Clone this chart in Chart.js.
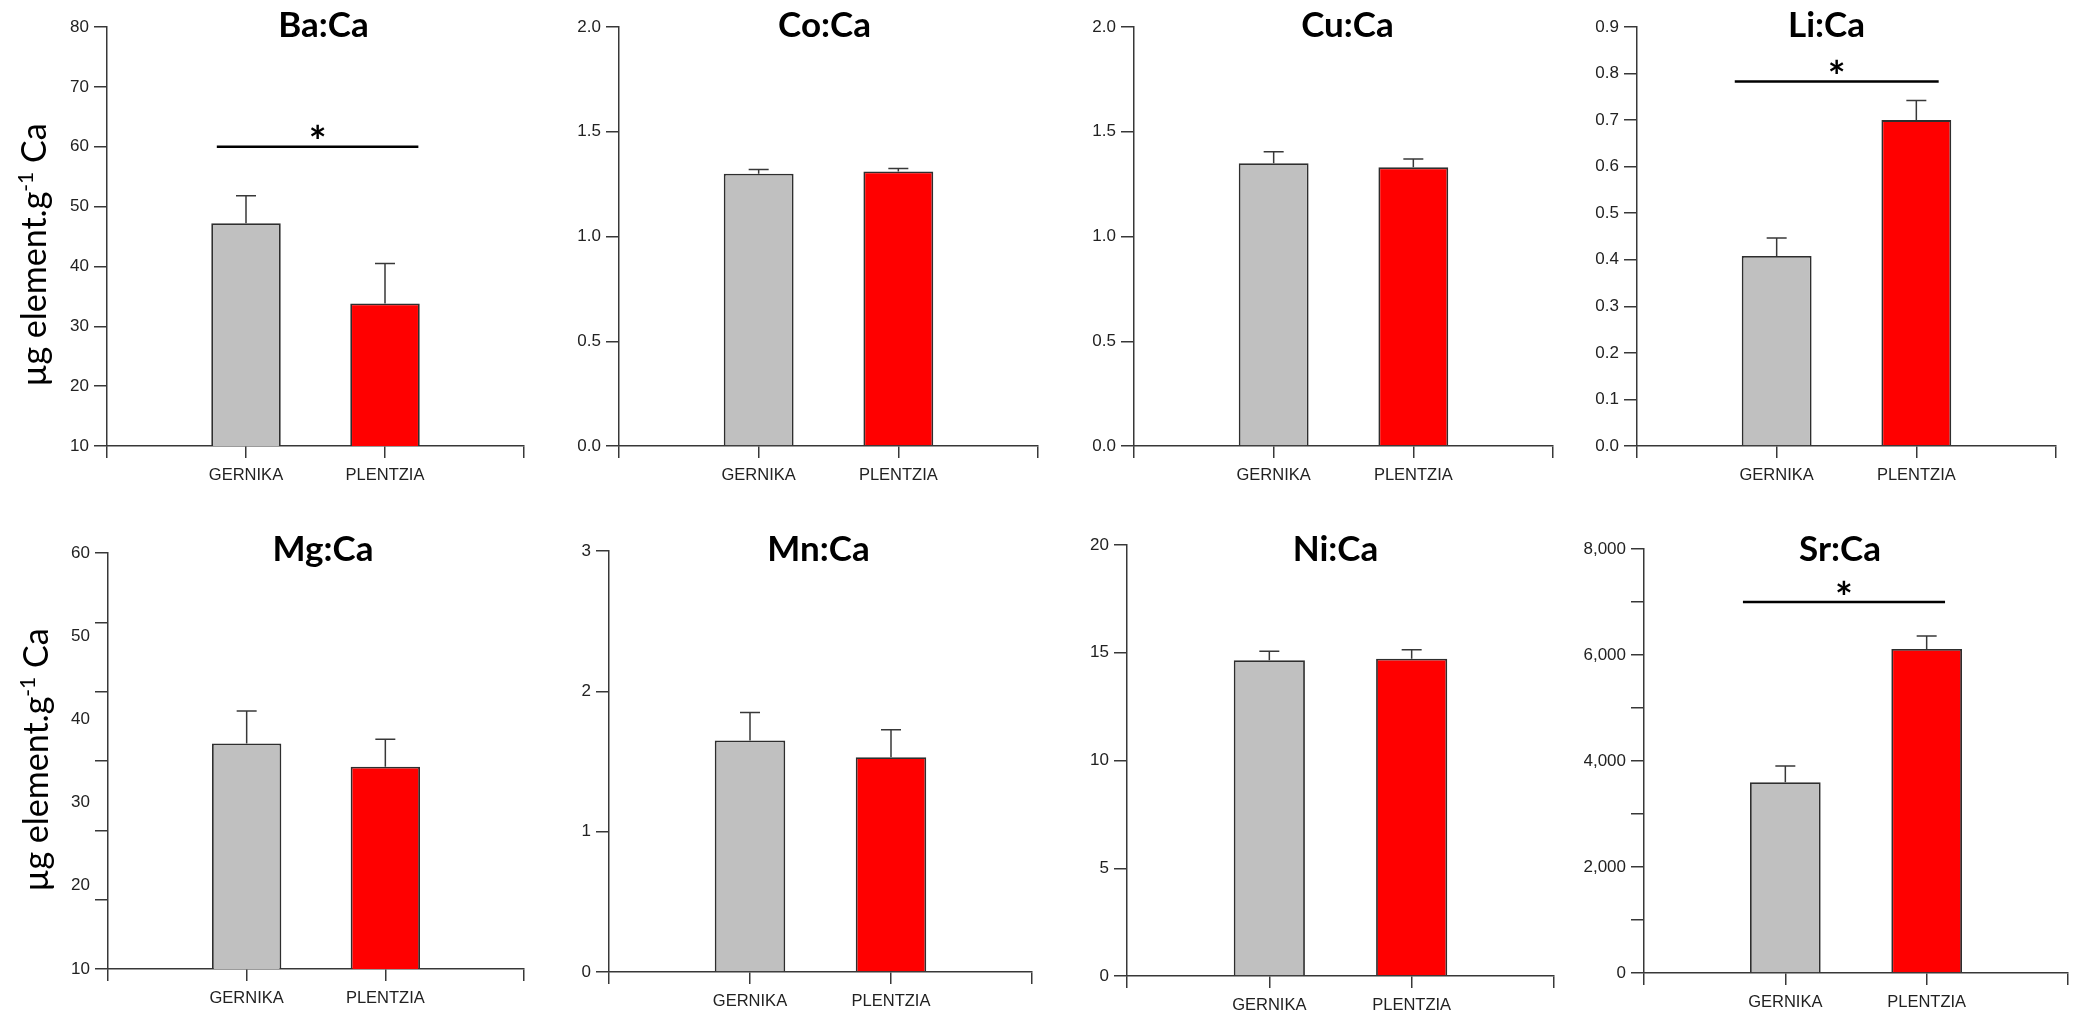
<!DOCTYPE html>
<html>
<head>
<meta charset="utf-8">
<script src="https://cdn.jsdelivr.net/npm/chart.js@4.4.0/dist/chart.umd.min.js"></script>
<style>
  html, body { margin: 0; padding: 0; background: #fff; }
  #wrap { position: relative; width: 2076px; height: 1016px; overflow: hidden; }
  .panel { position: absolute; }
</style>
</head>
<body>
<div id="wrap"></div>
<script>
// ---- data ----
var sites = ['GERNIKA', 'PLENTZIA'];
var ratios = ['Ba:Ca', 'Co:Ca', 'Cu:Ca', 'Li:Ca', 'Mg:Ca', 'Mn:Ca', 'Ni:Ca', 'Sr:Ca'];
var gernikaMean  = [47.2, 1.30, 1.35, 0.408, 37.1, 1.65, 14.65, 3600];
var gernikaSE    = [4.6, 0.02, 0.055, 0.039, 3.9, 0.20, 0.42, 305];
var plentziaMean = [33.8, 1.31, 1.33, 0.70, 34.3, 1.53, 14.72, 6115];
var plentziaSE   = [6.7, 0.015, 0.04, 0.042, 3.3, 0.197, 0.42, 245];

// y axes: range, tick marks, labelled ticks
var yMin = [10, 0, 0, 0, 10, 0, 0, 0];
var yMax = [80, 2, 2, 0.9, 60, 3, 20, 8000];
var yTickStep = [10, 0.5, 0.5, 0.1, 50 / 6, 1, 5, 1000];
var yLabelStep = [10, 0.5, 0.5, 0.1, 10, 1, 5, 2000];
var yDecimals = [0, 1, 1, 1, 0, 0, 0, 0];

// significance bar level (null = none)
var sigLevel = [60, null, null, 0.783, null, null, null, 7000];

var yTitle = 'µg element.g';
var yTitleSup = '-1';
var yTitleEnd = ' Ca';

// ---- layout (page pixels) ----
var colEdges = [0, 532, 1046, 1562, 2076];
var rowEdges = [0, 500, 1016];
var panels = [
  { plot: [107, 27, 524, 446],   titleDx: 8,   titleY: 37, sig: [0.79, 2.24], ytitle: [46, 255] },
  { plot: [619, 27, 1038, 446],  titleDx: -4,  titleY: 37 },
  { plot: [1134, 27, 1553, 446], titleDx: 4,   titleY: 37 },
  { plot: [1637, 27, 2056, 446], titleDx: -20, titleY: 37, sig: [0.70, 2.16] },
  { plot: [108, 553, 524, 969],  titleDx: 7,   titleY: 61, ytitle: [48, 760] },
  { plot: [609, 551, 1032, 972], titleDx: -2,  titleY: 61 },
  { plot: [1127, 545, 1558, 976], titleDx: -5, titleY: 61 },
  { plot: [1644, 549, 2069, 973], titleDx: -16, titleY: 61, sig: [0.70, 2.13] }
];

var AXIS = '#383838';
var TEXT = '#222';
var Y_W = 60, X_H = 36;

Chart.defaults.font.family = "'Liberation Sans', Arial, sans-serif";

function onStep(v, min, step) {
  var k = (v - min) / step;
  return Math.abs(k - Math.round(k)) < 1e-6;
}

function tickValues(i) {
  var vals = [];
  var n = Math.round((yMax[i] - yMin[i]) / yTickStep[i]);
  for (var k = 0; k <= n; k++) vals.push(yMin[i] + k * yTickStep[i]);
  var m = Math.round((yMax[i] - yMin[i]) / yLabelStep[i]);
  for (var j = 0; j <= m; j++) {
    var v = yMin[i] + j * yLabelStep[i];
    var dup = vals.some(function (u) { return Math.abs(u - v) < 1e-9; });
    if (!dup) vals.push(v);
  }
  return vals.sort(function (a, b) { return a - b; });
}

function fmt(i, v) {
  if (yMax[i] >= 1000) return Math.round(v).toLocaleString('en-US');
  return v.toFixed(yDecimals[i]);
}

function makeOverlay(i) {
  var p = panels[i];
  var means = [null, gernikaMean[i], plentziaMean[i], null];
  var errs = [null, gernikaSE[i], plentziaSE[i], null];
  return {
    id: 'overlay' + i,
    afterDatasetsDraw: function (chart) {
      var ctx = chart.ctx, area = chart.chartArea;
      var xs = chart.scales.x, ys = chart.scales.y;
      var meta = chart.getDatasetMeta(0);
      ctx.save();

      // error bars (mean + SE)
      ctx.strokeStyle = AXIS;
      ctx.lineWidth = 1.5;
      for (var k = 1; k <= 2; k++) {
        var bar = meta.data[k];
        var top = ys.getPixelForValue(means[k] + errs[k]);
        ctx.beginPath();
        ctx.moveTo(bar.x, bar.y);
        ctx.lineTo(bar.x, top);
        ctx.moveTo(bar.x - 10, top);
        ctx.lineTo(bar.x + 10, top);
        ctx.stroke();
      }

      // title
      ctx.fillStyle = '#000';
      ctx.font = "bold 35px Lato, 'Open Sans', sans-serif";
      ctx.textAlign = 'center';
      ctx.textBaseline = 'alphabetic';
      ctx.fillText(ratios[i], (area.left + area.right) / 2 + p.titleDx, p.titleY);

      // significance bar + asterisk
      if (sigLevel[i] !== null && p.sig) {
        var y = ys.getPixelForValue(sigLevel[i]);
        var x1 = xs.getPixelForValue(p.sig[0]);
        var x2 = xs.getPixelForValue(p.sig[1]);
        ctx.strokeStyle = '#000';
        ctx.lineWidth = 2.5;
        ctx.beginPath();
        ctx.moveTo(x1, y);
        ctx.lineTo(x2, y);
        ctx.stroke();
        ctx.font = "bold 42px Lato, sans-serif";
        var mt = ctx.measureText('*');
        var h = mt.actualBoundingBoxAscent + mt.actualBoundingBoxDescent;
        ctx.textAlign = 'center';
        ctx.fillText('*', (x1 + x2) / 2, y - 15 - h / 2 + mt.actualBoundingBoxAscent);
      }

      // shared y-axis title on the first column
      if (p.ytitle) {
        ctx.fillStyle = '#000';
        ctx.translate(p.ytitle[0], p.ytitle[1]);
        ctx.rotate(-Math.PI / 2);
        ctx.textAlign = 'left';
        var big = "34px Lato, sans-serif", small = "21px Lato, sans-serif";
        ctx.font = big;
        var w1 = ctx.measureText(yTitle).width;
        var w3 = ctx.measureText(yTitleEnd).width;
        ctx.font = small;
        var w2 = ctx.measureText(yTitleSup).width;
        var x0 = -(w1 + w2 + w3) / 2;
        ctx.font = big;
        ctx.fillText(yTitle, x0, 0);
        ctx.font = small;
        ctx.fillText(yTitleSup, x0 + w1, -13);
        ctx.font = big;
        ctx.fillText(yTitleEnd, x0 + w1 + w2, 0);
      }
      ctx.restore();
    }
  };
}

function makeChart(i) {
  var p = panels[i];
  var col = i % 4, row = Math.floor(i / 4);
  var cx0 = colEdges[col], cx1 = colEdges[col + 1];
  var cy0 = rowEdges[row], cy1 = rowEdges[row + 1];
  var w = cx1 - cx0, h = cy1 - cy0;

  var box = document.createElement('div');
  box.className = 'panel';
  box.style.left = cx0 + 'px';
  box.style.top = cy0 + 'px';
  box.style.width = w + 'px';
  box.style.height = h + 'px';
  var canvas = document.createElement('canvas');
  canvas.width = w;
  canvas.height = h;
  canvas.style.width = w + 'px';
  canvas.style.height = h + 'px';
  box.appendChild(canvas);
  document.getElementById('wrap').appendChild(box);

  if (p.ytitle) p.ytitle = [p.ytitle[0] - cx0, p.ytitle[1] - cy0];

  var pad = {
    left: p.plot[0] - cx0 - Y_W,
    top: p.plot[1] - cy0,
    right: cx1 - p.plot[2],
    bottom: cy1 - p.plot[3] - X_H
  };

  return new Chart(canvas.getContext('2d'), {
    type: 'bar',
    data: {
      labels: [''].concat(sites).concat(['']),
      datasets: [{
        data: [null, gernikaMean[i], plentziaMean[i], null],
        backgroundColor: ['#ffffff', '#c0c0c0', '#ff0000', '#ffffff'],
        borderColor: '#2e2e2e',
        borderWidth: 1.8,
        borderSkipped: 'start',
        categoryPercentage: 1,
        barPercentage: 0.5
      }]
    },
    options: {
      responsive: false,
      animation: false,
      events: [],
      layout: { padding: pad },
      plugins: { legend: { display: false }, tooltip: { enabled: false }, title: { display: false } },
      scales: {
        x: {
          type: 'category',
          offset: false,
          grid: { display: true, offset: false, drawOnChartArea: false, drawTicks: true, tickLength: 12, color: AXIS, lineWidth: 1.5 },
          border: { display: true, color: AXIS, width: 1.5 },
          ticks: { color: TEXT, font: { size: 16.5 }, padding: 8, maxRotation: 0, autoSkip: false },
          afterFit: function (s) { s.height = X_H; }
        },
        y: {
          type: 'linear',
          min: yMin[i],
          max: yMax[i],
          grid: {
            display: true, drawOnChartArea: false, drawTicks: true, tickLength: 13, lineWidth: 1.5,
            color: AXIS,
            tickColor: function (c) {
              return c.tick && onStep(c.tick.value, yMin[i], yTickStep[i]) ? AXIS : 'rgba(0,0,0,0)';
            }
          },
          border: { display: true, color: AXIS, width: 1.5 },
          ticks: {
            color: TEXT,
            font: { size: 17 },
            padding: 5,
            callback: function (v) { return onStep(v, yMin[i], yLabelStep[i]) ? fmt(i, v) : ''; }
          },
          afterBuildTicks: function (s) {
            s.ticks = tickValues(i).map(function (v) { return { value: v }; });
          },
          afterFit: function (s) { s.width = Y_W; }
        }
      }
    },
    plugins: [makeOverlay(i)]
  });
}

for (var i = 0; i < ratios.length; i++) makeChart(i);
</script>
</body>
</html>
